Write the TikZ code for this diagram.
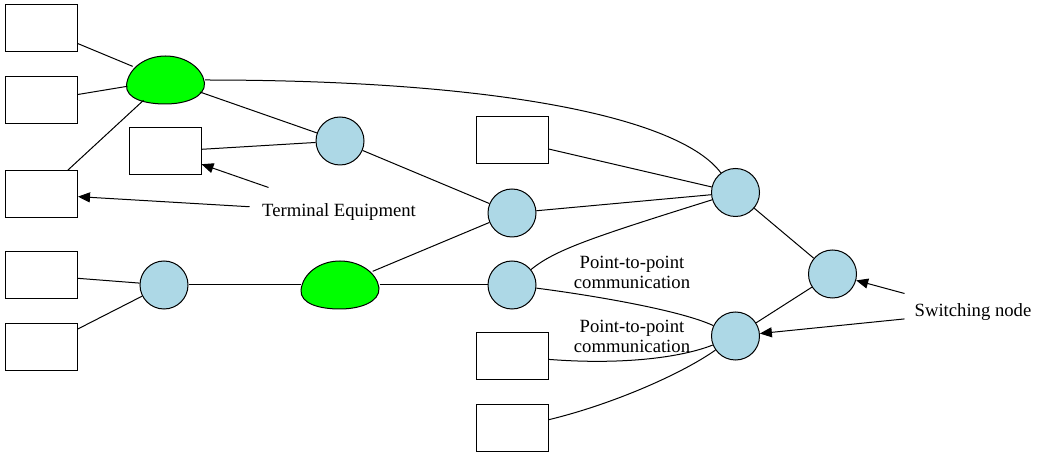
\documentclass[tikz,border=0pt]{standalone}
\usepackage{fontspec}
\setmainfont{Liberation Serif}
\usetikzlibrary{shapes.geometric, arrows.meta}
\definecolor{nodeblue}{HTML}{ADD8E6}
\definecolor{hubgreen}{HTML}{00FF00}

\begin{document}
\begin{tikzpicture}[x=0.75pt, y=-0.75pt, line width=0.75pt,
    term/.style={draw, rectangle, minimum width=54pt, minimum height=35.25pt, inner sep=0pt},
    switch/.style={draw, circle, fill=nodeblue, minimum size=36pt, inner sep=0pt},
    hub/.style={ellipse, minimum width=58.5pt, minimum height=36pt, inner sep=0pt},
    tag/.style={font=\fontsize{14}{15}\selectfont, align=center, inner sep=0pt},
    arr/.style={-{Triangle[length=9pt, width=7.5pt]}}]
      \useasboundingbox (0,0) rectangle (1046,459);

      % terminal equipment
      \node[term] (t1) at (41.5, 28.5) {};
      \node[term] (t2) at (41.5, 100.5) {};
      \node[term] (t3) at (41.5, 194.5) {};
      \node[term] (t4) at (165, 151.5) {};
      \node[term] (t5) at (41.5, 275.5) {};
      \node[term] (t6) at (41.5, 347.5) {};
      \node[term] (t7) at (512, 140.5) {};
      \node[term] (t8) at (512, 356.5) {};
      \node[term] (t9) at (512, 428.5) {};

      % hubs
      \node[hub] (h1) at (165.5, 80) {};
      \node[hub] (h2) at (340, 285) {};
      \foreach \h in {h1, h2} {
        \begin{scope}[shift={(\h)}]
          \draw[fill=hubgreen] (-39,5) .. controls (-37,-12) and (-20,-24) .. (0,-24)
            .. controls (20,-24) and (37,-12) .. (39,3)
            .. controls (40,17) and (20,24) .. (0,24)
            .. controls (-20,24) and (-40,19) .. (-39,5) -- cycle;
        \end{scope}
      }

      % switching nodes
      \node[switch] (s1) at (340, 141) {};
      \node[switch] (s2) at (512, 213) {};
      \node[switch] (s3) at (164, 285) {};
      \node[switch] (s4) at (512, 285) {};
      \node[switch] (s5) at (735.5, 192.5) {};
      \node[switch] (s6) at (832.5, 274) {};
      \node[switch] (s7) at (735.5, 336) {};

      % labels
      \node[tag, minimum width=133.5pt, minimum height=36pt] (lterm) at (339, 212) {Terminal Equipment};
      \node[tag, minimum width=102pt, minimum height=36pt] (lswitch) at (973, 312) {Switching node};
      \node[tag] (lp2p1) at (632, 272) {Point-to-point\\communication};
      \node[tag] (lp2p2) at (632, 336) {Point-to-point\\communication};

      \draw (t1) -- (h1);
      \draw (t2) -- (h1);
      \draw (t3) -- (h1);
      \draw (h1) -- (s1);
      \draw (t4) -- (s1);
      \draw (s1) -- (s2);
      \draw (h1) .. controls (500,80) and (680,118) .. (s5);
      \draw (t7) -- (s5);
      \draw (s2) -- (s5);
      \draw (s4) .. controls (555,250) and (590,238) .. (s5);
      \draw (s5) -- (s6);
      \draw (t5) -- (s3);
      \draw (t6) -- (s3);
      \draw (s3) -- (h2);
      \draw (h2) -- (s2);
      \draw (h2) -- (s4);
      \draw (s4) .. controls (590,295) and (680,310) .. (s7);
      \draw (t8) .. controls (620,365) and (680,358) .. (s7);
      \draw (t9) .. controls (610,405) and (680,375) .. (s7);
      \draw (s6) -- (s7);

      \draw[arr] (lterm) -- (t4);
      \draw[arr] (lterm) -- (t3);
      \draw[arr] (lswitch) -- (s6);
      \draw[arr] (lswitch) -- (s7);
    \end{tikzpicture}
\end{document}
